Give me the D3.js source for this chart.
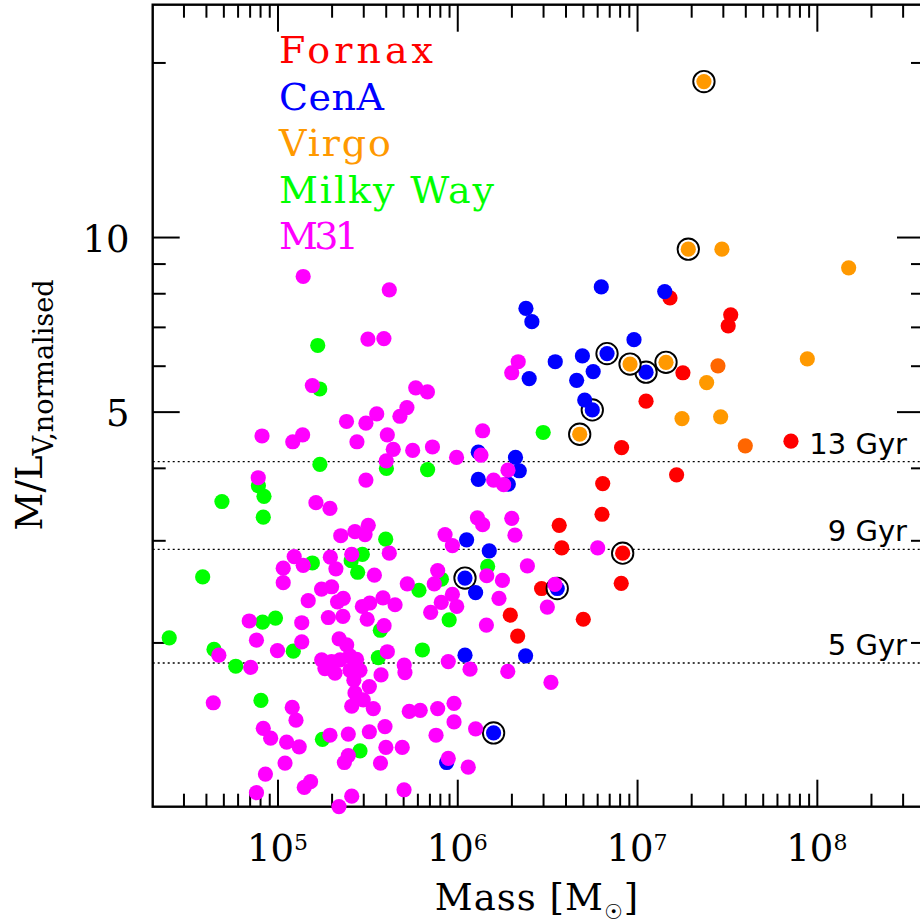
<!DOCTYPE html>
<html>
<head>
<meta charset="utf-8">
<script src="https://cdn.jsdelivr.net/npm/d3@7"></script>
<style>
  html, body { margin: 0; padding: 0; background: #fff; }
  svg { display: block; }
</style>
</head>
<body>
<svg id="chart" width="920" height="924"></svg>
<script>
// Each point: [log10(Mass / Msun), log10(M/L_V normalised), circled?]
const fornax = [
  [7.183,0.895],[7.521,0.866],[7.507,0.847],[7.255,0.766],[7.050,0.717],[6.914,0.637],
  [7.856,0.648],[7.220,0.590],[6.809,0.575],[6.805,0.522],[6.567,0.503],[6.581,0.464],
  [6.920,0.455,1],[6.912,0.403],[6.469,0.394],[6.295,0.348],[6.701,0.341],[6.336,0.312]
];
const cenA = [
  [6.801,0.914],[7.154,0.906],[6.382,0.877],[6.415,0.854],[6.983,0.823],[6.833,0.799,1],
  [6.696,0.795],[6.545,0.785],[6.400,0.756],[6.756,0.768],[6.664,0.753],[7.050,0.767,1],
  [6.751,0.702,1],[6.709,0.719],[6.324,0.620],[6.117,0.629],[6.345,0.597],[6.117,0.582],
  [6.284,0.574],[6.052,0.478],[6.178,0.459],[6.043,0.412,1],[6.102,0.387],[6.556,0.394,1],
  [6.043,0.279],[6.380,0.278],[6.202,0.145,1],[5.941,0.094]
];
const virgo = [
  [7.372,1.268,1],[7.285,0.979,1],[7.472,0.979],[8.177,0.947],[7.947,0.790],[6.961,0.781,1],
  [7.161,0.784,1],[7.387,0.749],[7.250,0.687],[7.465,0.690],[6.681,0.660,1]
];
const virgoDeep = [
  [7.450,0.778],[7.602,0.640]
];
const milkyWay = [
  [5.224,0.813],[5.235,0.738],[5.236,0.608],[5.606,0.601],[5.835,0.599],[4.894,0.571],
  [4.925,0.553],[4.691,0.544],[4.921,0.517],[5.602,0.479],[6.478,0.663],[5.194,0.438],
  [5.410,0.442],[5.472,0.453],[5.446,0.422],[4.584,0.414],[5.787,0.391],[5.912,0.410],
  [6.169,0.432],[4.917,0.336],[4.989,0.343],[5.572,0.322],[5.955,0.340],[5.088,0.286],
  [5.561,0.275],[5.806,0.288],[4.398,0.309],[4.647,0.289],[4.768,0.260],[4.908,0.201],
  [5.250,0.134],[5.459,0.114]
];
const m31 = [
  [5.143,0.932],[5.622,0.909],[5.503,0.824],[5.592,0.825],[5.194,0.744],[5.769,0.740],
  [5.834,0.733],[5.720,0.706],[5.681,0.691],[5.552,0.695],[5.492,0.679],[5.384,0.682],
  [4.914,0.657],[5.085,0.647],[5.140,0.659],[5.442,0.647],[5.611,0.659],[5.644,0.634],
  [5.752,0.632],[5.862,0.638],[5.996,0.620],[6.141,0.666],[6.132,0.624],[6.339,0.785],
  [6.303,0.766],[5.605,0.614],
  [4.893,0.585],[5.492,0.581],[5.214,0.542],[5.292,0.532],[5.352,0.485],[5.431,0.492],
  [5.487,0.487],[5.505,0.503],[5.932,0.487],[5.973,0.468],[5.622,0.455],[5.413,0.453],
  [5.093,0.449],[5.294,0.448],[5.143,0.434],[5.325,0.428],[5.032,0.429],[5.032,0.404],
  [5.539,0.417],[5.891,0.425],[5.872,0.402],[5.722,0.402],[5.245,0.393],[5.301,0.397],
  [5.171,0.373],[5.334,0.371],[5.366,0.377],[5.472,0.363],[5.513,0.369],[5.587,0.378],
  [5.654,0.366],[5.852,0.353],[5.911,0.370],[5.973,0.384],[5.997,0.363],[4.843,0.338],
  [5.135,0.335],[5.283,0.344],[5.364,0.346],[5.499,0.341],[5.593,0.330],
  [6.112,0.516],[6.141,0.504],[6.303,0.515],[6.321,0.486],[6.282,0.598],[6.258,0.573],
  [6.202,0.581],[6.781,0.464],[6.390,0.433],[6.164,0.416],[6.251,0.408],[6.543,0.401],
  [6.232,0.377],[6.501,0.362],[6.162,0.331],
  [4.883,0.305],[5.000,0.287],[5.135,0.302],[5.343,0.307],[5.385,0.297],[5.611,0.285],
  [4.674,0.279],[4.851,0.258],
  [5.246,0.271],[5.301,0.268],[5.348,0.271],[5.403,0.278],[5.440,0.272],[5.264,0.256],
  [5.320,0.248],[5.403,0.253],[5.459,0.253],[5.425,0.236],[5.511,0.225],[5.431,0.214],
  [5.477,0.202],[5.413,0.191],[5.533,0.187],[5.576,0.245],
  [5.950,0.268],[6.071,0.255],[6.281,0.251],[5.705,0.262],[5.709,0.249],[6.521,0.232],
  [4.643,0.197],[5.082,0.189],[5.103,0.167],[4.921,0.153],[4.962,0.136],[5.051,0.129],
  [5.121,0.121],[5.042,0.093],[4.933,0.074],[5.149,0.051],[5.184,0.061],[4.883,0.042],
  [5.342,0.018],[5.413,0.036],[5.292,0.141],[5.394,0.143],[5.372,0.094],[5.394,0.106],
  [5.511,0.147],[5.598,0.156],[5.603,0.120],[5.573,0.093],[5.733,0.182],[5.794,0.184],
  [5.891,0.187],[5.982,0.196],[5.982,0.164],[6.102,0.152],[5.882,0.141],[5.694,0.120],
  [5.950,0.101],[6.061,0.086],[5.704,0.047]
];

// Legend entries
const legendNames  = ["Fornax", "CenA", "Virgo", "Milky Way", "M31"];
const legendColors = ["#ff0000", "#0000ff", "#ff9900", "#00ff00", "#ff00ff"];

// Stellar population age reference levels (M/L_V)
const ageLabels = ["13 Gyr", "9 Gyr", "5 Gyr"];
const ageML     = [4.10, 2.894, 1.843];

// Axis ticks
const xMajor = [1e5, 1e6, 1e7, 1e8];
const xMajorExp = ["5", "6", "7", "8"];
const yMajor = [5, 10];
const yMajorLabels = ["5", "10"];
const yMinor = [2, 3, 4, 6, 7, 8, 9, 20];

// Drawing order of the groups (later groups sit on top)
const series = [
  { data: fornax,    color: "#ff0000" },
  { data: cenA,      color: "#0000ff" },
  { data: virgo,     color: "#ff9900" },
  { data: virgoDeep, color: "#ff6600" },
  { data: milkyWay,  color: "#00ff00" },
  { data: m31,       color: "#ff00ff" }
];

const svg = d3.select("#chart");
const plotL = 152.7, plotR = 924, plotT = 4.7, plotB = 806.7;

const x = d3.scaleLog().domain([10 ** 4.306, 10 ** 8.596]).range([plotL, plotR]);
const y = d3.scaleLog().domain([10 ** 0.0178, 10 ** 1.4006]).range([plotB, plotT]);

const serif = "'DejaVu Serif', serif";
const sans  = "'DejaVu Sans', sans-serif";

svg.append("rect").attr("width", 920).attr("height", 924).attr("fill", "#fff");

// minor x ticks at 2..9 x 10^k inside the domain
const xMinor = [];
for (let k = 4; k <= 8; k++) {
  for (let m = 2; m <= 9; m++) {
    const v = m * 10 ** k;
    if (v > x.domain()[0] && v < x.domain()[1]) xMinor.push(v);
  }
}

function tickGroup(gen, values, size, transform) {
  svg.append("g")
    .attr("transform", transform)
    .call(gen.tickValues(values).tickSize(-size).tickFormat(() => ""))
    .call(g => g.select(".domain").remove())
    .call(g => g.selectAll("text").remove())
    .call(g => g.selectAll("line").attr("stroke", "#000").attr("stroke-width", 2));
}

tickGroup(d3.axisBottom(x), xMinor, 13, `translate(0,${plotB})`);
tickGroup(d3.axisBottom(x), xMajor, 27, `translate(0,${plotB})`);
tickGroup(d3.axisTop(x),    xMinor, 13, `translate(0,${plotT})`);
tickGroup(d3.axisTop(x),    xMajor, 27, `translate(0,${plotT})`);
tickGroup(d3.axisLeft(y),   yMinor, 13, `translate(${plotL},0)`);
tickGroup(d3.axisLeft(y),   yMajor, 27, `translate(${plotL},0)`);
tickGroup(d3.axisRight(y),  yMinor, 13, `translate(${plotR},0)`);
tickGroup(d3.axisRight(y),  yMajor, 27, `translate(${plotR},0)`);

// frame
svg.append("rect")
  .attr("x", plotL).attr("y", plotT)
  .attr("width", plotR - plotL).attr("height", plotB - plotT)
  .attr("fill", "none").attr("stroke", "#000").attr("stroke-width", 2.4);

// x tick labels 10^k
xMajor.forEach((v, i) => {
  const t = svg.append("text")
    .attr("x", x(v)).attr("y", 861)
    .attr("text-anchor", "middle")
    .attr("font-family", serif).attr("font-size", 37)
    .text("10");
  t.append("tspan").attr("font-size", 22).attr("dy", -11).text(xMajorExp[i]);
});

// y tick labels
yMajor.forEach((v, i) => {
  svg.append("text")
    .attr("x", 129.5).attr("y", y(v) + 14.5)
    .attr("text-anchor", "end")
    .attr("font-family", serif).attr("font-size", 37)
    .text(yMajorLabels[i]);
});

// axis titles
const xt = svg.append("text")
  .attr("x", 537).attr("y", 910)
  .attr("text-anchor", "middle")
  .attr("font-family", serif).attr("font-size", 37)
  .attr("letter-spacing", 1);
xt.append("tspan").text("Mass [M");
xt.append("tspan").attr("font-family", sans).attr("font-size", 21).attr("dy", 9).text("\u2609");
xt.append("tspan").attr("dy", -9).text("]");

const yt = svg.append("text")
  .attr("transform", "translate(42,405) rotate(-90)")
  .attr("text-anchor", "middle")
  .attr("font-family", serif).attr("font-size", 37);
yt.append("tspan").text("M/L");
yt.append("tspan").attr("font-size", 27).attr("dy", 11).text("V,normalised");

// age reference lines
ageML.forEach((v, i) => {
  svg.append("line")
    .attr("x1", plotL).attr("x2", plotR)
    .attr("y1", y(v)).attr("y2", y(v))
    .attr("stroke", "#000").attr("stroke-width", 1.3)
    .attr("stroke-dasharray", "2,3");
  svg.append("text")
    .attr("x", 907).attr("y", y(v) - 8)
    .attr("text-anchor", "end")
    .attr("font-family", sans).attr("font-size", 29)
    .text(ageLabels[i]);
});

// data points
series.forEach(s => {
  const g = svg.append("g");
  g.selectAll("g")
    .data(s.data)
    .join("g")
    .each(function (d) {
      const cx = x(10 ** d[0]), cy = y(10 ** d[1]);
      const p = d3.select(this);
      if (d[2]) {
        p.append("circle")
          .attr("cx", cx).attr("cy", cy).attr("r", 10.7)
          .attr("fill", "#fff").attr("stroke", "#000").attr("stroke-width", 1.9);
      }
      p.append("circle")
        .attr("cx", cx).attr("cy", cy).attr("r", 7.6)
        .attr("fill", s.color);
    });
});

// legend
const legendSpan = [154, 105, 112, 215, 80];
legendNames.forEach((name, i) => {
  svg.append("text")
    .attr("x", 279).attr("y", 63.3 + i * 46.5)
    .attr("font-family", serif).attr("font-size", 38)
    .attr("fill", legendColors[i])
    .attr("textLength", legendSpan[i])
    .attr("lengthAdjust", "spacing")
    .text(name);
});
</script>
</body>
</html>
